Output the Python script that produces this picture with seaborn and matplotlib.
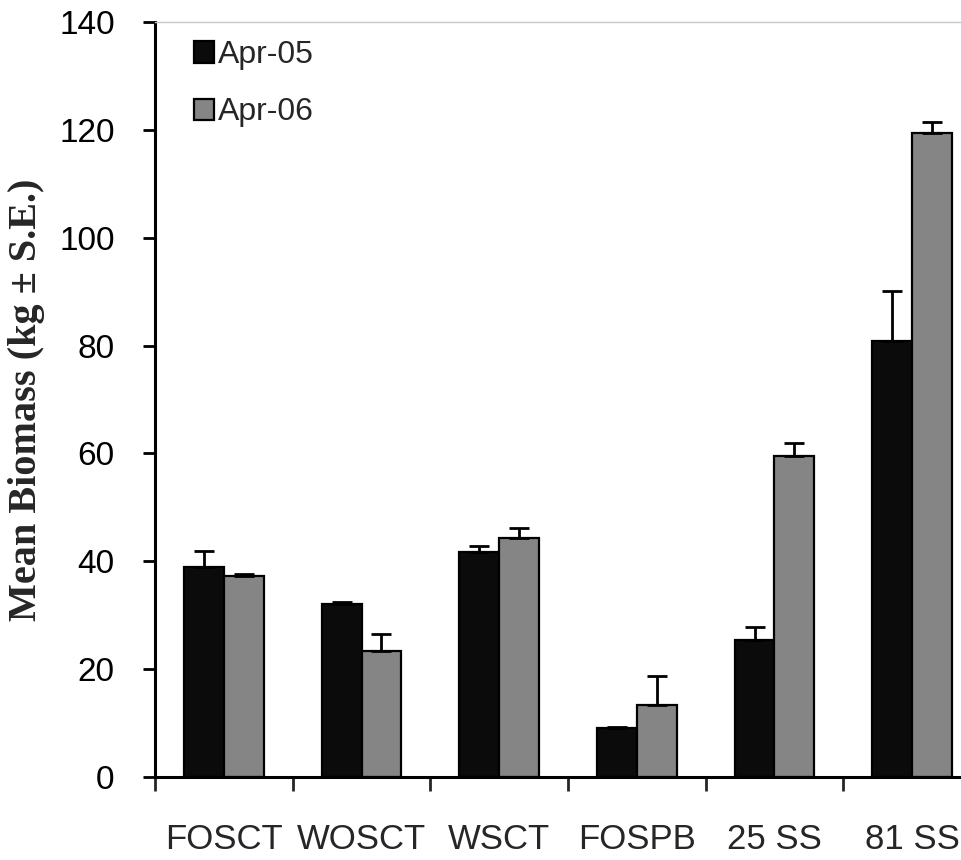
import matplotlib
matplotlib.use("Agg")
import matplotlib.pyplot as plt
import seaborn as sns
import pandas as pd
import numpy as np

sites = ["FOSCT", "WOSCT", "WSCT", "FOSPB", "25 SS", "81 SS"]
dates = ["Apr-05", "Apr-06"]
apr05 = [39.0, 32.1, 41.7, 9.0, 25.4, 80.8]
apr06 = [37.3, 23.3, 44.3, 13.4, 59.5, 119.5]
se05 = [3.0, 0.3, 1.1, 0.3, 2.5, 9.4]
se06 = [0.3, 3.2, 1.9, 5.4, 2.5, 1.9]
yticks = [0, 20, 40, 60, 80, 100, 120, 140]

df = pd.DataFrame({
    "site": sites * 2,
    "date": [dates[0]] * len(sites) + [dates[1]] * len(sites),
    "biomass": apr05 + apr06,
})

sns.set_style("white")
plt.rcParams["font.family"] = ["Liberation Sans", "DejaVu Sans"]

fig = plt.figure(figsize=(9.61, 8.6), dpi=100)
ax = fig.add_axes([155 / 961, (860 - 777) / 860, (981 - 155) / 961, (777 - 22) / 860])

sns.barplot(data=df, x="site", y="biomass", hue="date", order=sites, hue_order=dates,
            palette=["#0b0b0b", "#858585"], width=0.58, edgecolor="black",
            linewidth=1.6, errorbar=None, ax=ax, saturation=1)

for cont, errs in zip(ax.containers, [se05, se06]):
    for bar, e in zip(cont, errs):
        xc = bar.get_x() + bar.get_width() / 2
        h = bar.get_height()
        ax.errorbar(xc, h, yerr=[[0], [e]], fmt="none", ecolor="black",
                    elinewidth=2, capsize=7, capthick=2, zorder=5)

ax.set_xlim(-0.5, 5.5)
ax.set_ylim(0, 140)
ax.set_yticks(yticks)
ax.set_yticklabels([str(v) for v in yticks], fontsize=24)
ax.tick_params(axis="y", direction="out", length=9, width=2, pad=20, left=True, colors="black")

ax.set_xticks(np.arange(-0.5, 6.0, 1.0))
ax.set_xticklabels([])
ax.set_xticks(np.arange(len(sites)), minor=True)
ax.set_xticklabels(sites, minor=True, fontsize=25)
ax.tick_params(axis="x", which="major", direction="out", length=10, width=2, bottom=True)
ax.tick_params(axis="x", which="minor", length=0, pad=33)

for s in ["left", "bottom"]:
    ax.spines[s].set_linewidth(2.2)
    ax.spines[s].set_color("black")
ax.spines["top"].set_color("#c8c8c8")
ax.spines["top"].set_linewidth(1)
ax.spines["right"].set_visible(False)

ax.set_xlabel("")
ax.set_ylabel("Mean Biomass (kg ± S.E.)", fontsize=29, fontweight="bold",
              family=["Liberation Serif", "DejaVu Serif"], labelpad=10)

handles, labels = ax.get_legend_handles_labels()
leg = ax.legend(handles, labels, loc="upper left", bbox_to_anchor=(0.028, 0.997),
                frameon=False, fontsize=23, handlelength=0.62, handleheight=0.65,
                handletextpad=0.12, labelspacing=0.85, borderpad=0)

fig.savefig("out.png", dpi=100)
